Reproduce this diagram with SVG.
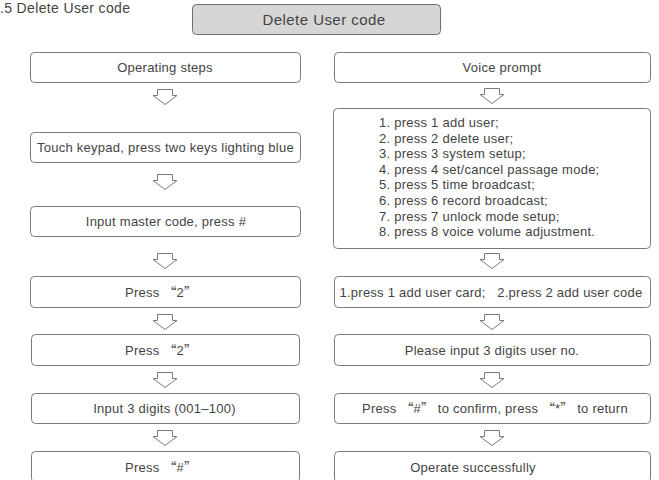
<svg xmlns="http://www.w3.org/2000/svg" xmlns:xlink="http://www.w3.org/1999/xlink" width="659" height="480" viewBox="0 0 659 480">
<style>
.box{fill:#fff;stroke:#7a7a7a;stroke-width:1}
.hdr{fill:#d6d6d6;stroke:#6e6e6e;stroke-width:1}
text{font-family:"Liberation Sans",Arial,"Noto Sans CJK SC",sans-serif;font-size:13px;letter-spacing:0.25px;fill:#444;white-space:pre}
.c{text-anchor:middle}
.q{font-family:"Noto Sans CJK SC","Liberation Sans",sans-serif;letter-spacing:0}
.arr{fill:#fff;stroke:#7a7a7a;stroke-width:1}
</style>
<defs>
<path id="ar" class="arr" d="M-7.5,0 L7.5,0 L7.5,6 L12,6 L0,15 L-12,6 L-7.5,6 Z"/>
</defs>
<rect width="659" height="480" fill="#fff"/>
<text x="0" y="13" style="font-size:14px;letter-spacing:0.35px">.5 Delete User code</text>
<g id="header">
<rect class="hdr" x="192.5" y="4.5" width="248" height="30" rx="4"/>
<text class="c" x="324" y="24.5" style="font-size:15px;letter-spacing:0.45px">Delete User code</text>
</g>
<g id="l0"><rect class="box" x="30.5" y="52.5" width="270" height="30" rx="4"/><text class="c" x="165" y="72">Operating steps</text></g>
<g id="l1"><rect class="box" x="30.5" y="132.5" width="270" height="30" rx="4"/><text class="c" x="165.5" y="152">Touch keypad, press two keys lighting blue</text></g>
<g id="l2"><rect class="box" x="30.5" y="206.5" width="270" height="30" rx="4"/><text class="c" x="166" y="226">Input master code, press #</text></g>
<g id="l3"><rect class="box" x="30.5" y="276.5" width="270" height="31" rx="4"/><text class="c" x="161" y="296.5" xml:space="preserve">Press <tspan class="q">“</tspan>2<tspan class="q">”</tspan></text></g>
<g id="l4"><rect class="box" x="31.5" y="334.5" width="268" height="31" rx="4"/><text class="c" x="161" y="354.5" xml:space="preserve">Press <tspan class="q">“</tspan>2<tspan class="q">”</tspan></text></g>
<g id="l5"><rect class="box" x="31.5" y="393.5" width="268" height="30" rx="4"/><text class="c" x="164.5" y="413">Input 3 digits (001–100)</text></g>
<g id="l6"><rect class="box" x="31.5" y="451.5" width="268" height="31" rx="4"/><text class="c" x="161" y="471.5" xml:space="preserve">Press <tspan class="q">“</tspan>#<tspan class="q">”</tspan></text></g>
<g id="r0"><rect class="box" x="334.5" y="52.5" width="316" height="30" rx="4"/><text class="c" x="502" y="72">Voice prompt</text></g>
<g id="r1"><rect class="box" x="333.5" y="108.5" width="317" height="140" rx="4"/>
<text x="379" y="127">1. press 1 add user;</text>
<text x="379" y="142.6">2. press 2 delete user;</text>
<text x="379" y="158.2">3. press 3 system setup;</text>
<text x="379" y="173.8">4. press 4 set/cancel passage mode;</text>
<text x="379" y="189.4">5. press 5 time broadcast;</text>
<text x="379" y="205">6. press 6 record broadcast;</text>
<text x="379" y="220.6">7. press 7 unlock mode setup;</text>
<text x="379" y="236.2">8. press 8 voice volume adjustment.</text>
</g>
<g id="r2"><rect class="box" x="334.5" y="276.5" width="316" height="31" rx="4"/><text class="c" x="491" y="296.5" xml:space="preserve">1.press 1 add user card;   2.press 2 add user code</text></g>
<g id="r3"><rect class="box" x="334.5" y="334.5" width="316" height="31" rx="4"/><text class="c" x="492" y="354.5">Please input 3 digits user no.</text></g>
<g id="r4"><rect class="box" x="334.5" y="393.5" width="316" height="30" rx="4"/><text class="c" x="495" y="413" xml:space="preserve">Press <tspan class="q">“</tspan>#<tspan class="q">”</tspan> to confirm, press <tspan class="q">“</tspan>*<tspan class="q">”</tspan> to return</text></g>
<g id="r5"><rect class="box" x="334.5" y="451.5" width="316" height="31" rx="4"/><text class="c" x="473" y="471.5">Operate successfully</text></g>
<g id="connectors">
<use xlink:href="#ar" x="165" y="89.5"/>
<use xlink:href="#ar" x="165" y="174.5"/>
<use xlink:href="#ar" x="165" y="253.5"/>
<use xlink:href="#ar" x="165" y="314.5"/>
<use xlink:href="#ar" x="165" y="372.5"/>
<use xlink:href="#ar" x="165" y="430.5"/>
<use xlink:href="#ar" x="492" y="88.5"/>
<use xlink:href="#ar" x="492" y="253.5"/>
<use xlink:href="#ar" x="492" y="314.5"/>
<use xlink:href="#ar" x="492" y="372.5"/>
<use xlink:href="#ar" x="492" y="430.5"/>
</g>
</svg>
